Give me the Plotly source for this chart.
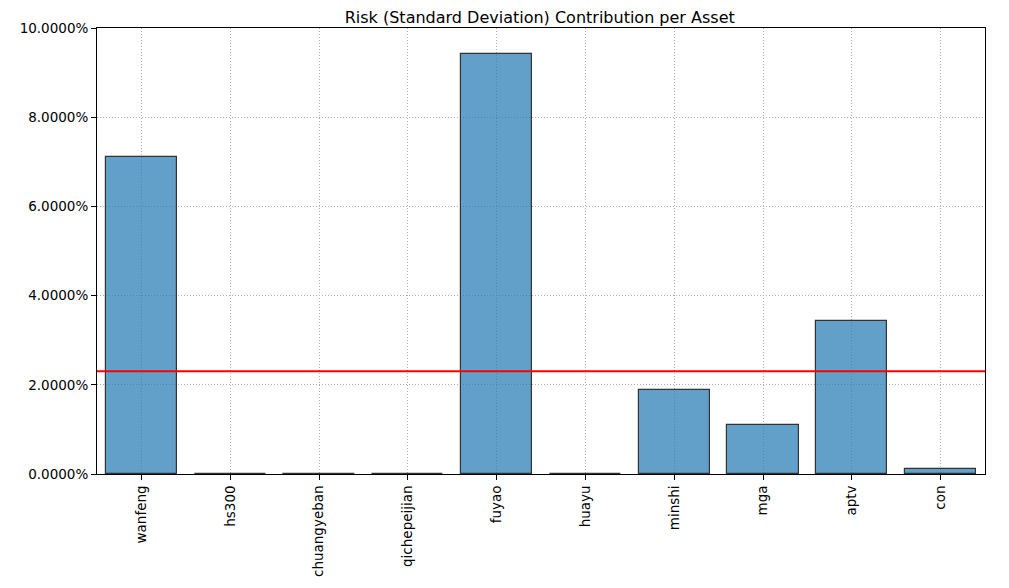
import plotly.graph_objects as go

assets = ["wanfeng", "hs300", "chuangyeban", "qichepeijian", "fuyao",
          "huayu", "minshi", "mga", "aptv", "con"]
risk_contrib = [0.07108, 0.0, 0.0, 0.0, 0.09417, 0.0, 0.01883, 0.01099, 0.0343, 0.00112]
y_ticks = [0.0, 0.02, 0.04, 0.06, 0.08, 0.10]

mean_val = sum(risk_contrib) / len(risk_contrib)

fig = go.Figure()
fig.add_trace(go.Bar(
    x=assets, y=risk_contrib, width=0.8,
    marker=dict(color="rgba(31,119,180,0.7)",
                line=dict(color="#333333", width=1.2)),
    showlegend=False,
))
fig.add_shape(type="line", xref="paper", x0=0, x1=1, yref="y",
              y0=mean_val, y1=mean_val, line=dict(color="red", width=2))

axis_common = dict(
    showline=True, linecolor="black", linewidth=1, mirror=True,
    ticks="outside", ticklen=5, tickcolor="black", tickwidth=1,
    showgrid=True, gridcolor="#b0b0b0", griddash="1px,2px", gridwidth=1,
    zeroline=False,
    tickfont=dict(family="DejaVu Sans", size=13.5, color="black"),
)

fig.update_layout(
    width=1009, height=588,
    margin=dict(l=87, r=32, t=20, b=122),
    paper_bgcolor="white", plot_bgcolor="white",
    title=dict(text="Risk (Standard Deviation) Contribution per Asset",
               x=0.527, xanchor="center", y=0.984, yanchor="middle",
               font=dict(family="DejaVu Sans", size=16, color="black")),
    xaxis=dict(range=[-0.5, 9.5], tickangle=-90, **axis_common),
    yaxis=dict(range=[0, 0.10], tickvals=y_ticks, tickformat=".4%", **axis_common),
    bargap=0,
)

fig.write_html("out.html")
